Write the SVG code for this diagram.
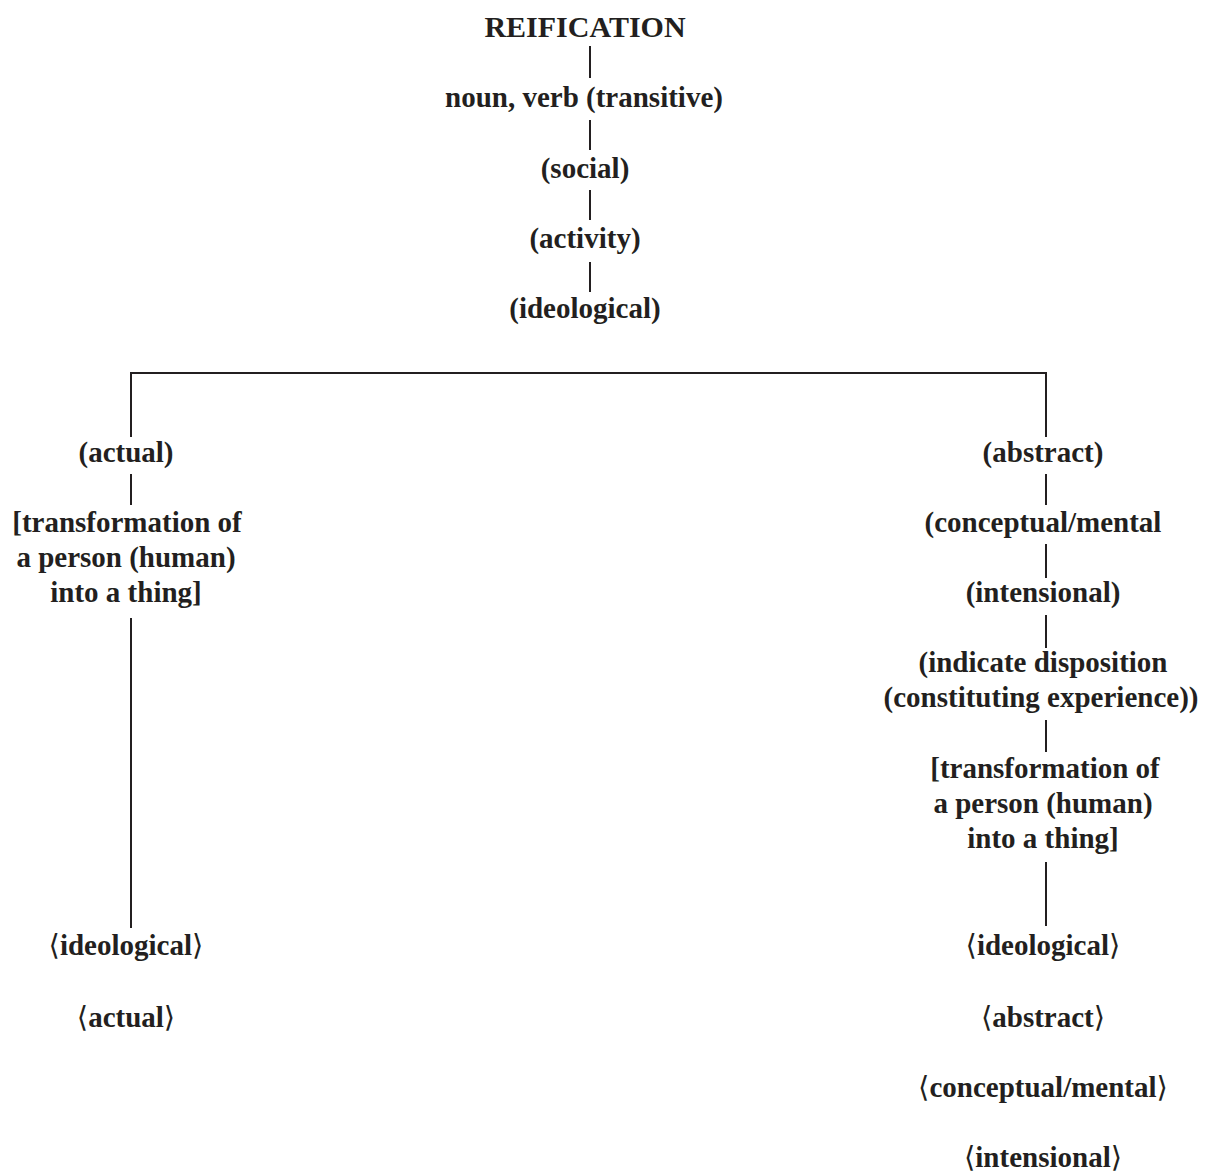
<svg xmlns="http://www.w3.org/2000/svg" width="1212" height="1172" viewBox="0 0 1212 1172">
<style>
text{font-family:"Liberation Serif","DejaVu Serif",serif;font-weight:bold;font-size:29px;fill:#231f20;text-anchor:middle}
.title{font-size:30px}
.ang{font-weight:normal}
line,polyline{stroke:#231f20;stroke-width:2;fill:none}
</style>
<rect width="1212" height="1172" fill="#fff"/>
<g id="connectors">
<line x1="590" y1="46" x2="590" y2="78"/>
<line x1="590" y1="120" x2="590" y2="150"/>
<line x1="590" y1="190" x2="590" y2="220"/>
<line x1="590" y1="262" x2="590" y2="292"/>
<polyline points="131,437 131,373 1046,373 1046,437"/>
<line x1="131" y1="474" x2="131" y2="505"/>
<line x1="131" y1="618" x2="131" y2="928"/>
<line x1="1046" y1="474" x2="1046" y2="505"/>
<line x1="1046" y1="544" x2="1046" y2="578"/>
<line x1="1046" y1="615" x2="1046" y2="648"/>
<line x1="1046" y1="720" x2="1046" y2="752"/>
<line x1="1046" y1="862" x2="1046" y2="926"/>
</g>
<g id="n-reification"><text class="title" x="585" y="37">REIFICATION</text></g>
<g id="n-noun"><text x="584" y="107">noun, verb (transitive)</text></g>
<g id="n-social"><text x="585" y="178">(social)</text></g>
<g id="n-activity"><text x="585" y="248">(activity)</text></g>
<g id="n-ideological"><text x="585" y="318">(ideological)</text></g>
<g id="n-actual"><text x="126" y="462">(actual)</text></g>
<g id="n-transform-left"><text x="127" y="532">[transformation of</text><text x="126" y="567">a person (human)</text><text x="126" y="602">into a thing]</text></g>
<g id="n-ideo-left"><text x="126" y="955"><tspan class="ang">⟨</tspan>ideological<tspan class="ang">⟩</tspan></text></g>
<g id="n-actual-left"><text x="126" y="1027"><tspan class="ang">⟨</tspan>actual<tspan class="ang">⟩</tspan></text></g>
<g id="n-abstract"><text x="1043" y="462">(abstract)</text></g>
<g id="n-conceptual"><text x="1043" y="532">(conceptual/mental</text></g>
<g id="n-intensional"><text x="1043" y="602">(intensional)</text></g>
<g id="n-indicate"><text x="1043" y="672">(indicate disposition</text><text x="1041" y="707">(constituting experience))</text></g>
<g id="n-transform-right"><text x="1045" y="778">[transformation of</text><text x="1043" y="813">a person (human)</text><text x="1043" y="848">into a thing]</text></g>
<g id="n-ideo-right"><text x="1043" y="955"><tspan class="ang">⟨</tspan>ideological<tspan class="ang">⟩</tspan></text></g>
<g id="n-abstract-right"><text x="1043" y="1027"><tspan class="ang">⟨</tspan>abstract<tspan class="ang">⟩</tspan></text></g>
<g id="n-conceptual-right"><text x="1043" y="1097"><tspan class="ang">⟨</tspan>conceptual/mental<tspan class="ang">⟩</tspan></text></g>
<g id="n-intensional-right"><text x="1043" y="1167"><tspan class="ang">⟨</tspan>intensional<tspan class="ang">⟩</tspan></text></g>
</svg>
